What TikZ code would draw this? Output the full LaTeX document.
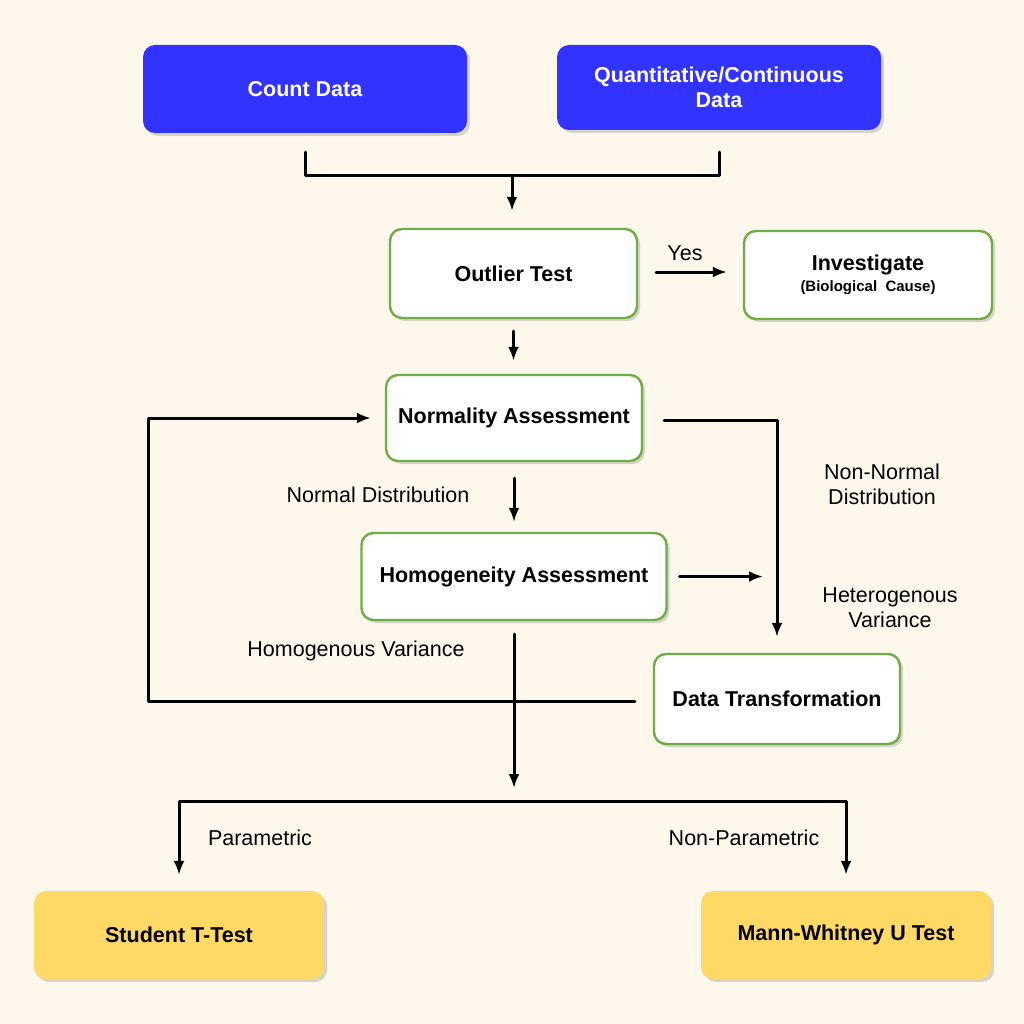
\documentclass[tikz,border=0pt]{standalone}
\usepackage{fontspec}
\setmainfont{Liberation Sans}
\usetikzlibrary{arrows.meta,positioning,shadows}
\definecolor{flowBg}{RGB}{254,248,236}
\definecolor{flowBlue}{RGB}{51,51,255}
\definecolor{flowGreen}{RGB}{112,173,71}
\definecolor{flowGold}{RGB}{255,217,102}

\begin{document}
\begin{tikzpicture}[x=1pt, y=-1pt, line cap=round, line join=round,
    box/.style={rounded corners=12pt, inner sep=0pt, align=center,
        font=\fontsize{21.5}{25}\selectfont\bfseries,
        drop shadow={shadow xshift=3pt, shadow yshift=-3pt, opacity=0.3}},
    datbox/.style={box, fill=flowBlue, text=white, minimum width=324pt},
    stepbox/.style={box, fill=white, draw=flowGreen, line width=2.4pt},
    testbox/.style={box, fill=flowGold, minimum width=290pt, minimum height=88pt},
    lbl/.style={align=center, font=\fontsize{21.5}{25}\selectfont},
    flow/.style={line width=3pt, -{Latex[length=14pt,width=11pt]}},
    wire/.style={line width=3pt}]
    \fill[flowBg] (0,0) rectangle (1024,1024);
    \useasboundingbox (0,0) rectangle (1024,1024);

    \node[datbox, minimum height=88pt] (count) at (305,89) {Count Data};
    \node[datbox, minimum height=85pt] (quant) at (719,87.5) {Quantitative/Continuous\\Data};
    \node[stepbox, minimum width=247pt, minimum height=89pt] (outlier) at (513.5,273.5) {Outlier Test};
    \node[stepbox, minimum width=248pt, minimum height=88pt] (invest) at (868,275)
        {Investigate\\[-4pt]{\fontsize{15}{17}\selectfont(Biological\ \ Cause)}};
    \node[stepbox, minimum width=256pt, minimum height=86pt] (normal) at (514,418) {Normality Assessment};
    \node[stepbox, minimum width=305pt, minimum height=87pt] (homog) at (514,576.5) {Homogeneity Assessment};
    \node[stepbox, minimum width=246pt, minimum height=90pt] (transf) at (777,699) {Data Transformation};
    \node[testbox] (student) at (179,935) {Student T-Test};
    \node[testbox] (mann) at (846,935) {Mann-Whitney U Test};

    \node[lbl] (yes) at (685,253) {Yes};
    \node[lbl] (normdist) at (378,495) {Normal Distribution};
    \node[lbl] (nonnorm) at (882,484) {Non-Normal\\Distribution};
    \node[lbl] (hetvar) at (890,608) {Heterogenous\\Variance};
    \node[lbl] (homvar) at (356,651) {Homogenous Variance};
    \node[lbl] (param) at (260,838) {Parametric};
    \node[lbl] (nonparam) at (744,838) {Non-Parametric};

    \coordinate (merge) at (512,176);
    \coordinate (hetend) at (763,577);
    \coordinate (loopturn) at (148,701);
    \coordinate (split) at (514,801);

    \draw[wire, shorten <=19pt, shorten >=22pt] (count.south) |- (merge) -| (quant.south);
    \draw[flow, shorten >=17pt] (merge) -- (merge |- outlier.north);
    \draw[flow, shorten <=18pt, shorten >=16pt] (outlier.east |- 0,272) -- (invest.west |- 0,272);
    \draw[flow, shorten <=12pt, shorten >=13pt] (outlier.south) -- (outlier.south |- normal.north);
    \draw[flow, shorten <=16pt, shorten >=10pt] (normal.south) -- (homog.north);
    \draw[flow, shorten <=21pt, shorten >=16pt] (normal.east |- 0,420) -| (transf.north);
    \draw[flow, shorten <=12pt] (homog.east) -- (homog.east -| hetend);
    \draw[flow, shorten <=18pt, shorten >=14pt] (transf.west |- loopturn) -- (loopturn) |- (normal.west);
    \draw[flow, shorten <=13pt] (homog.south) -- (split |- 0,788);
    \draw[flow, shorten >=16pt] (split) -| (student.north);
    \draw[flow, shorten >=16pt] (split) -| (mann.north);
\end{tikzpicture}
\end{document}
